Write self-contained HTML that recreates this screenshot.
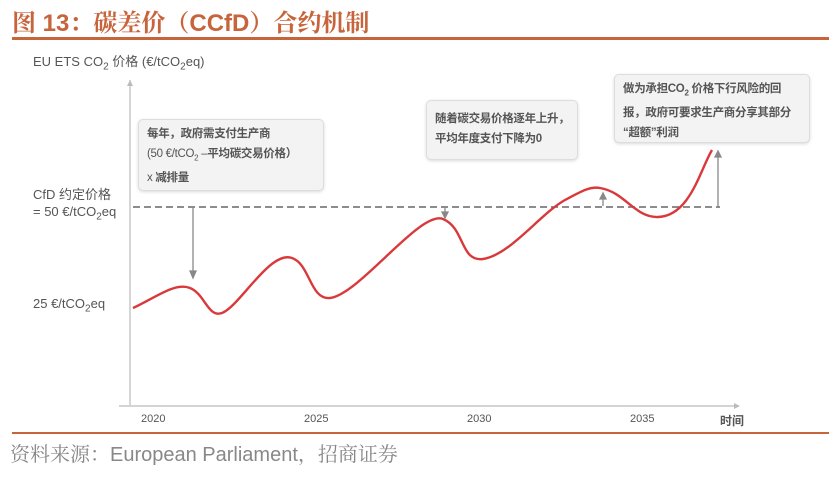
<!DOCTYPE html>
<html><head><meta charset="utf-8"><style>
body{margin:0;width:839px;height:492px;background:#fff;overflow:hidden;position:relative;font-family:"Liberation Sans","Noto Sans CJK SC",sans-serif}
.t{position:absolute;white-space:nowrap}
.box{position:absolute;background:#f3f3f3;border:1px solid #ddd;border-radius:5px;box-shadow:0 1px 3px rgba(0,0,0,.15);font-size:11.5px;font-weight:bold;color:#555;line-height:20px;padding:6px 8px;box-sizing:border-box;white-space:nowrap;letter-spacing:-0.3px}
</style></head><body>
<div class="t" style="left:12px;top:3px;font-size:24px;font-weight:bold;color:#c8643c;font-family:'Liberation Sans','Noto Serif CJK SC',serif">图 13：碳差价（CCfD）合约机制</div>
<div style="position:absolute;left:12px;top:37px;width:817px;height:3px;background:#c8643c"></div>
<div style="position:absolute;left:12px;top:432px;width:817px;height:2px;background:#c8643c"></div>
<div class="t" style="left:10px;top:438px;font-size:20px;color:#888;font-family:'Liberation Sans','Noto Serif CJK SC',serif">资料来源：European Parliament，招商证券</div>
<div class="t" style="left:33px;top:51px;font-size:13px;color:#555">EU ETS CO<sub style="font-size:10px">2</sub> 价格 (€/tCO<sub style="font-size:10px">2</sub>eq)</div>
<div class="t" style="left:33px;top:184px;font-size:13px;color:#555">CfD 约定价格</div>
<div class="t" style="left:33px;top:204px;font-size:13px;color:#555">= 50 €/tCO<sub style="font-size:10px">2</sub>eq</div>
<div class="t" style="left:33px;top:296px;font-size:13px;color:#555">25 €/tCO<sub style="font-size:10px">2</sub>eq</div>
<div class="t" style="left:141px;top:413px;font-size:11px;color:#555">2020</div>
<div class="t" style="left:304px;top:413px;font-size:11px;color:#555">2025</div>
<div class="t" style="left:467px;top:413px;font-size:11px;color:#555">2030</div>
<div class="t" style="left:630px;top:413px;font-size:11px;color:#555">2035</div>
<div class="t" style="left:720px;top:412px;font-size:12px;font-weight:bold;color:#555">时间</div>
<svg width="839" height="492" style="position:absolute;left:0;top:0">
<line x1="130" y1="80" x2="130" y2="405" stroke="#bbb" stroke-width="1.2"/>
<path d="M127 86 L130 80 L133 86" fill="#bbb"/>
<line x1="119" y1="406" x2="738" y2="406" stroke="#bbb" stroke-width="1.2"/>
<path d="M734 403 L740 406 L734 409 Z" fill="#bbb"/>
<line x1="133" y1="207" x2="720" y2="207" stroke="#666" stroke-width="1.6" stroke-dasharray="7,4"/>
<path d="M133 308 C155 298 175 282 190 288 C205 294 208 318 222 313 C240 306 270 250 292 258 C310 264 310 300 330 298 C360 294 420 210 443 219 C465 228 460 262 483 259 C510 255 540 214 565 200 C580 192 590 186 600 188 C625 192 635 218 658 217 C690 216 700 170 712 150" fill="none" stroke="#d9393b" stroke-width="2.4"/>
<g stroke="#888" stroke-width="1.3" fill="#888">
<line x1="193" y1="207" x2="193" y2="274"/><path d="M190 271 L193 278 L196 271 Z"/>
<line x1="445" y1="207" x2="445" y2="214"/><path d="M442 212 L445 218 L448 212 Z"/>
<line x1="603" y1="206" x2="603" y2="197"/><path d="M600 199 L603 193 L606 199 Z"/>
<line x1="718" y1="206" x2="718" y2="155"/><path d="M715 157 L718 151 L721 157 Z"/>
</g>
</svg>
<div class="box" style="left:138px;top:119px;width:186px;height:72px;padding-top:4px">每年，政府需支付生产商<br><span style="font-weight:normal">(50 €/tCO<sub style="font-size:8px">2</sub> –</span>平均碳交易价格）<br><span style="font-weight:normal">x</span> 减排量</div>
<div class="box" style="left:426px;top:100px;width:152px;height:60px;padding-top:8px">随着碳交易价格逐年上升，<br>平均年度支付下降为0</div>
<div class="box" style="left:614px;top:74px;width:196px;height:69px;padding-top:4px">做为承担CO<sub style="font-size:8px">2</sub> 价格下行风险的回<br>报，政府可要求生产商分享其部分<br>“超额”利润</div>
</body></html>
